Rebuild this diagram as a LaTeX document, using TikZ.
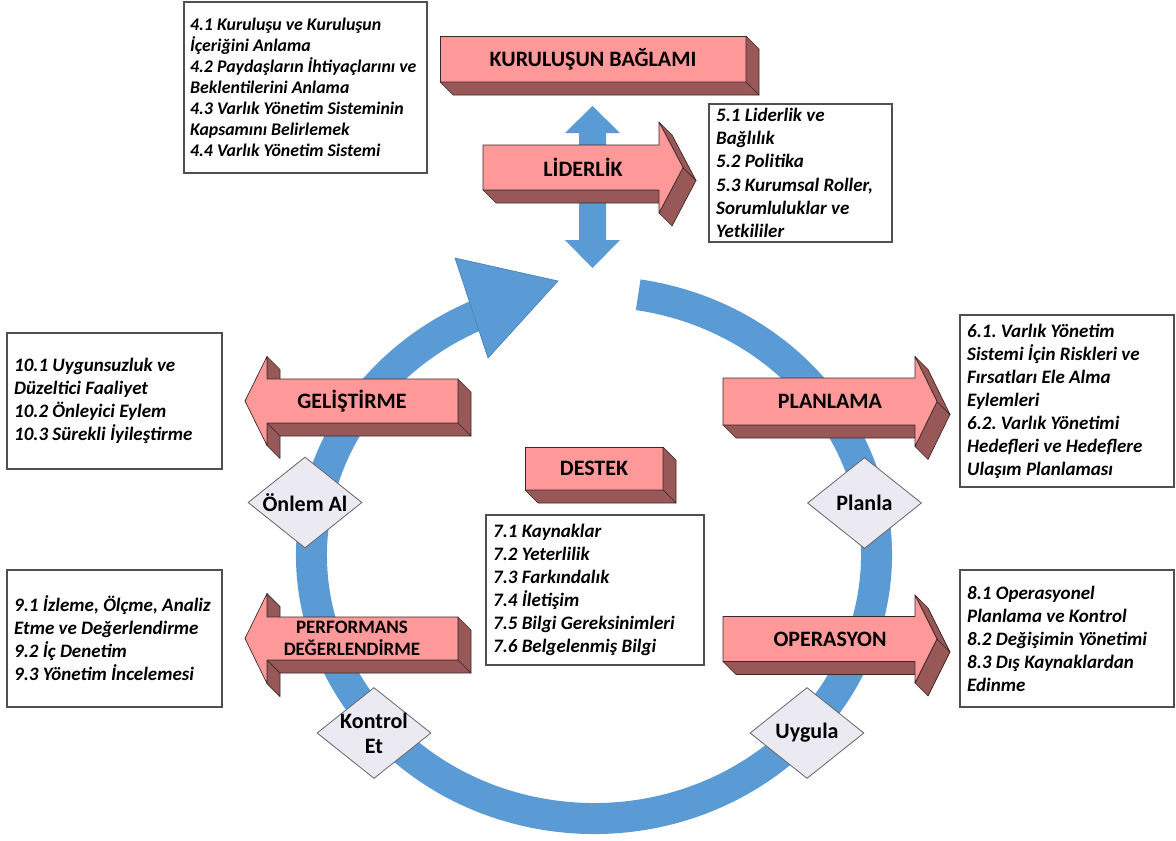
\documentclass[tikz,border=0pt]{standalone}
\usepackage{fontspec}
\setmainfont{Carlito}
\usetikzlibrary{shapes.geometric}

\definecolor{ringblue}{RGB}{91,155,213}
\definecolor{ringedge}{RGB}{70,125,180}
\definecolor{slabface}{RGB}{255,153,153}
\definecolor{slabside}{RGB}{153,88,88}
\definecolor{slabline}{RGB}{60,40,40}
\definecolor{gemfill}{RGB}{235,233,241}
\definecolor{boxline}{RGB}{80,80,80}

% zero-width text, so the diamond keeps its own size
\newcommand\zw[1]{\makebox[0pt]{#1}}

% right-pointing extruded arrow: left x, head x, tip x, mid y, shaft half height, head half height
\newcommand\slabR[6]{%
  \path[side] (#1,#4+#5) -- (#2,#4+#5) -- (#2+13,#4+#5+13) -- (#1+13,#4+#5+13) -- cycle;
  \path[side] (#3,#4) -- (#2,#4+#6) -- (#2+13,#4+#6+13) -- (#3+13,#4+13) -- cycle;
  \path[side] (#2,#4-#6) -- (#3,#4) -- (#3+13,#4+13) -- (#2+13,#4-#6+13) -- cycle;
  \path[front] (#1,#4-#5) -- (#2,#4-#5) -- (#2,#4-#6) -- (#3,#4) -- (#2,#4+#6)
     -- (#2,#4+#5) -- (#1,#4+#5) -- cycle;
}
% left-pointing extruded arrow: right x, head x, tip x, mid y, shaft half height, head half height
\newcommand\slabL[6]{%
  \path[side] (#2,#4-#6) -- (#2,#4-#5) -- (#2+13,#4-#5+13) -- (#2+13,#4-#6+13) -- cycle;
  \path[side] (#2,#4+#5) -- (#1,#4+#5) -- (#1+13,#4+#5+13) -- (#2+13,#4+#5+13) -- cycle;
  \path[side] (#1,#4-#5) -- (#1,#4+#5) -- (#1+13,#4+#5+13) -- (#1+13,#4-#5+13) -- cycle;
  \path[side] (#2,#4+#5) -- (#2,#4+#6) -- (#2+13,#4+#6+13) -- (#2+13,#4+#5+13) -- cycle;
  \path[front] (#3,#4) -- (#2,#4-#6) -- (#2,#4-#5) -- (#1,#4-#5) -- (#1,#4+#5)
     -- (#2,#4+#5) -- (#2,#4+#6) -- cycle;
}

\begin{document}
\frenchspacing
\begin{tikzpicture}[x=1pt,y=-1pt,
  ring/.style={draw=ringblue, line width=31pt},
  front/.style={fill=slabface, draw=slabline, line width=0.7pt, line join=round},
  side/.style={fill=slabside, draw=slabline, line width=0.7pt, line join=round},
  slabbox/.style={front, outer sep=0pt, inner sep=0pt},
  title/.style={font=\fontsize{22}{24}\selectfont\bfseries, inner sep=0pt},
  smalltitle/.style={font=\fontsize{19}{22.5}\selectfont\bfseries, inner sep=0pt, align=center},
  tbox/.style={draw=boxline, line width=1.2pt, fill=white, inner sep=0pt, outer sep=0pt},
  btext/.style={font=\fontsize{19}{23}\selectfont\bfseries\itshape, align=left, inner sep=0pt},
  gem/.style={diamond, draw=black!60, fill=gemfill, line width=0.8pt,
    minimum width=114pt, minimum height=91pt, inner sep=0pt, aspect=1.25,
    font=\fontsize{22}{25}\selectfont\bfseries, align=center},
]
\useasboundingbox (0,0) rectangle (1176,841);
\fill[white] (0,0) rectangle (1176,841);

% the cycle ring with its arrowhead
\coordinate (ringc) at (594,555);
\draw[ring] ([shift={(-81:282.5 and 263.5)}]ringc)
  arc[start angle=-81, end angle=247, x radius=282.5, y radius=263.5];
\path[fill=ringblue, draw=ringedge, line width=0.6pt, line join=round]
  (455,258) -- (558,281) -- (488,358) -- cycle;

% vertical double arrow under the leadership arrow
\path[fill=ringblue] (592.5,106) -- (620,133) -- (606,133) -- (606,240) -- (620,240)
  -- (592.5,268) -- (565,240) -- (579,240) -- (579,133) -- (565,133) -- cycle;

% context block
\node[slabbox, minimum width=306pt, minimum height=46pt] (kb) at (593,59) {};
\path[side] (kb.north east) -- ++(13,13) -- ([shift={(13,13)}]kb.south east) -- (kb.south east) -- cycle;
\path[side] (kb.south west) -- (kb.south east) -- ([shift={(13,13)}]kb.south east) -- ([shift={(13,13)}]kb.south west) -- cycle;
\node[title] (kbl) at (kb.center) {KURULUŞUN BAĞLAMI};

% support block
\node[slabbox, minimum width=138pt, minimum height=43pt] (db) at (594,468.5) {};
\path[side] (db.north east) -- ++(13,13) -- ([shift={(13,13)}]db.south east) -- (db.south east) -- cycle;
\path[side] (db.south west) -- (db.south east) -- ([shift={(13,13)}]db.south east) -- ([shift={(13,13)}]db.south west) -- cycle;
\node[title] (dbl) at (db.center) {DESTEK};

% phase arrows
\slabR{483}{659}{683}{167.5}{22.5}{45.5}
\node[title] (lider) at (583,167.5) {LİDERLİK};
\slabR{723}{915}{937}{401.5}{23.5}{45}
\node[title] (plan) at (830,401.5) {PLANLAMA};
\slabR{723}{915}{937}{639}{22.5}{44}
\node[title] (oper) at (830,639) {OPERASYON};
\slabL{458}{267}{245}{401}{22}{44.5}
\node[title] (gelis) at (352,401) {GELİŞTİRME};
\slabL{458}{267}{245}{638.5}{21.5}{45}
\node[smalltitle] (perf) at (352,638.5) {PERFORMANS\\DEĞERLENDİRME};

% step diamonds on the ring
\node[gem] (onlem) at (305,502.5) {\zw{Önlem Al}};
\node[gem] (planla) at (864.5,503) {\zw{Planla}};
\node[gem] (kontrol) at (374,733) {\zw{Kontrol}\\\zw{Et}};
\node[gem] (uygula) at (807,733) {\zw{Uygula}};

% clause boxes
\node[tbox, minimum width=243pt, minimum height=171pt] (b4) at (305.5,87.5) {};
\node[btext, font=\fontsize{17.8}{21.1}\selectfont\bfseries\itshape, anchor=west] (t4) at ([xshift=6pt]b4.west)
  {4.1 Kuruluşu ve Kuruluşun\\İçeriğini Anlama\\4.2 Paydaşların İhtiyaçlarını ve\\Beklentilerini Anlama\\4.3 Varlık Yönetim Sisteminin\\Kapsamını Belirlemek\\4.4 Varlık Yönetim Sistemi};

\node[tbox, minimum width=183pt, minimum height=138pt] (b5) at (800.5,173) {};
\node[btext, font=\fontsize{19}{23.3}\selectfont\bfseries\itshape, anchor=west] (t5) at ([xshift=7pt]b5.west)
  {5.1 Liderlik ve\\Bağlılık\\5.2 Politika\\5.3 Kurumsal Roller,\\Sorumluluklar ve\\Yetkililer};

\node[tbox, minimum width=215pt, minimum height=136pt] (b10) at (114.5,401) {};
\node[btext, anchor=west] (t10) at ([xshift=7pt]b10.west)
  {10.1 Uygunsuzluk ve\\Düzeltici Faaliyet\\10.2 Önleyici Eylem\\10.3 Sürekli İyileştirme};

\node[tbox, minimum width=215pt, minimum height=137pt] (b9) at (114.5,638.5) {};
\node[btext, anchor=west] (t9) at ([xshift=7pt]b9.west)
  {9.1 İzleme, Ölçme, Analiz\\Etme ve Değerlendirme\\9.2 İç Denetim\\9.3 Yönetim İncelemesi};

\node[tbox, minimum width=214pt, minimum height=172pt] (b6) at (1067,401) {};
\node[btext, anchor=west] (t6) at ([xshift=7pt]b6.west)
  {6.1. Varlık Yönetim\\Sistemi İçin Riskleri ve\\Fırsatları Ele Alma\\Eylemleri\\6.2. Varlık Yönetimi\\Hedefleri ve Hedeflere\\Ulaşım Planlaması};

\node[tbox, minimum width=214pt, minimum height=137pt] (b8) at (1067,638.5) {};
\node[btext, anchor=west] (t8) at ([xshift=7pt]b8.west)
  {8.1 Operasyonel\\Planlama ve Kontrol\\8.2 Değişimin Yönetimi\\8.3 Dış Kaynaklardan\\Edinme};

\node[tbox, minimum width=218pt, minimum height=150pt] (b7) at (595,590) {};
\node[btext, anchor=west] (t7) at ([xshift=7pt]b7.west)
  {7.1 Kaynaklar\\7.2 Yeterlilik\\7.3 Farkındalık\\7.4 İletişim\\7.5 Bilgi Gereksinimleri\\7.6 Belgelenmiş Bilgi};
\end{tikzpicture}
\end{document}
